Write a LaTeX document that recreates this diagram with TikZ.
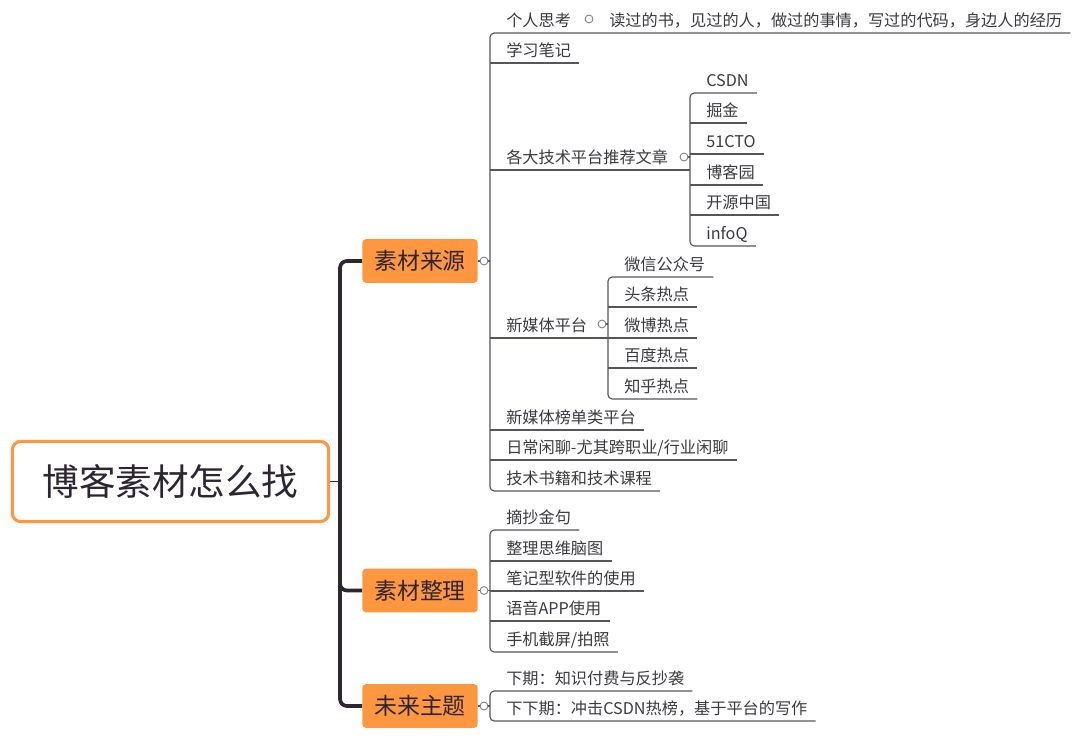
\documentclass[tikz,border=0pt]{standalone}
\usepackage{fontspec}
\setmainfont{Noto Sans CJK SC}
\usepackage{xcolor}
\usepackage{tikz}
\usetikzlibrary{positioning, calc}
\definecolor{myorange}{RGB}{255,150,64}
\definecolor{mydark}{RGB}{45,38,50}
\definecolor{myline}{RGB}{85,85,92}
\definecolor{mytext}{RGB}{58,58,64}
\definecolor{myknob}{RGB}{120,120,130}
\tikzset{
  rootbox/.style={rectangle, draw=myorange, fill=white, line width=2.2pt,
    rounded corners=6pt, minimum width=225pt, minimum height=57pt,
    font=\fontsize{26}{30}\selectfont, text=mydark},
  topicbox/.style={rectangle, fill=myorange, rounded corners=2.5pt,
    minimum width=82pt, minimum height=31pt, inner sep=0pt,
    font=\fontsize{16.3}{19}\selectfont, text=mydark},
  leaf/.style={anchor=south west, inner xsep=5.7pt, inner ysep=0pt,
    text depth=4.3pt, font=\fontsize{11.5}{13}\selectfont, text=mytext},
  knob/.style={circle, draw=myknob, fill=white, line width=0.6pt,
    minimum size=5.6pt, inner sep=0pt},
  trunk/.style={line width=2.6pt, color=mydark, rounded corners=5pt},
  branch/.style={line width=0.8pt, color=myline, rounded corners=3pt}
}

\begin{document}
\begin{tikzpicture}[x=0.025cm, y=-0.025cm]
  \useasboundingbox (0,0) rectangle (1092,741);

  % Root and main topics
  \node[rootbox] (root) at (170.5,481.5) {博客素材怎么找};
  \node[topicbox] (src)  at (420,261)   {素材来源};
  \node[topicbox] (org)  at (420,590.5) {素材整理};
  \node[topicbox] (plan) at (420,706)   {未来主题};

  % Trunk
  \draw[line width=0.8pt, mydark] (root.east) -- (340,481.5);
  \draw[trunk] (src.west) -- (340,261) -- (340,706) -- (plan.west);
  \draw[trunk] (340,560) -- (340,590.5) -- (org.west);

  % Spines
  \coordinate (sp1) at (490,261);
  \coordinate (sp2) at (690,157);
  \coordinate (sp3) at (608,324);
  \coordinate (sp4) at (490,590.5);
  \coordinate (sp5) at (490,706);

  % Sources
  \node[leaf] (s1)  at (498,33)  {个人思考};
  \node[leaf] (s1a) at (601,33)  {读过的书，见过的人，做过的事情，写过的代码，身边人的经历};
  \node[leaf] (s2)  at (498,63)  {学习笔记};
  \node[leaf] (s3)  at (498,170) {各大技术平台推荐文章};
  \node[leaf] (s4)  at (498,338) {新媒体平台};
  \node[leaf] (s5)  at (498,430) {新媒体榜单类平台};
  \node[leaf] (s6)  at (498,460) {日常闲聊-尤其跨职业/行业闲聊};
  \node[leaf] (s7)  at (498,491) {技术书籍和技术课程};

  \draw[branch] (s1a.south east) -- (490,33) -- (490,491) -- (s7.south east);
  \foreach \s in {s2,s5,s6}
    \draw[branch] (\s.south west -| sp1) -- (\s.south east);
  \draw[branch] (s3.south west -| sp1) -- (s3.south west -| sp2);
  \draw[branch] (s4.south west -| sp1) -- (s4.south west -| sp3);

  % Tech platforms
  \node[leaf] (p1) at (698,93)  {CSDN};
  \node[leaf] (p2) at (698,123) {掘金};
  \node[leaf] (p3) at (698,154) {51CTO};
  \node[leaf] (p4) at (698,185) {博客园};
  \node[leaf] (p5) at (698,215) {开源中国};
  \node[leaf] (p6) at (698,246) {infoQ};
  \draw[branch] (p1.south east) -- (690,93) -- (690,246) -- (p6.south east);
  \foreach \p in {p2,p3,p4,p5}
    \draw[branch] (\p.south west -| sp2) -- (\p.south east);

  % New media
  \node[leaf] (m1) at (616,277) {微信公众号};
  \node[leaf] (m2) at (616,307) {头条热点};
  \node[leaf] (m3) at (616,338) {微博热点};
  \node[leaf] (m4) at (616,368) {百度热点};
  \node[leaf] (m5) at (616,399) {知乎热点};
  \draw[branch] (m1.south east) -- (608,277) -- (608,399) -- (m5.south east);
  \foreach \m in {m2,m3,m4}
    \draw[branch] (\m.south west -| sp3) -- (\m.south east);

  % Organising
  \node[leaf] (o1) at (498,530) {摘抄金句};
  \node[leaf] (o2) at (498,561) {整理思维脑图};
  \node[leaf] (o3) at (498,591) {笔记型软件的使用};
  \node[leaf] (o4) at (498,621) {语音APP使用};
  \node[leaf] (o5) at (498,652) {手机截屏/拍照};
  \draw[branch] (o1.south east) -- (490,530) -- (490,652) -- (o5.south east);
  \foreach \o in {o2,o3,o4}
    \draw[branch] (\o.south west -| sp4) -- (\o.south east);

  % Future topics
  \node[leaf] (f1) at (498,691) {下期：知识付费与反抄袭};
  \node[leaf] (f2) at (498,721) {下下期：冲击CSDN热榜，基于平台的写作};
  \draw[branch] (f1.south east) -- (490,691) -- (490,721) -- (f2.south east);

  % Knobs
  \draw[branch] (src.east) -- (sp1);
  \draw[branch] (org.east) -- (sp4);
  \draw[branch] (plan.east) -- (sp5);
  \draw[branch] (684,157) -- (sp2);
  \draw[branch] (602,324) -- (sp3);
  \node[knob] (ksrc)  at (484,261)   {};
  \node[knob] (korg)  at (484,590.5) {};
  \node[knob] (kplan) at (484,706)   {};
  \node[knob] (ks1)   at (589,19)    {};
  \node[knob] (ks3)   at (684,157)   {};
  \node[knob] (ks4)   at (602,324)   {};
\end{tikzpicture}
\end{document}
